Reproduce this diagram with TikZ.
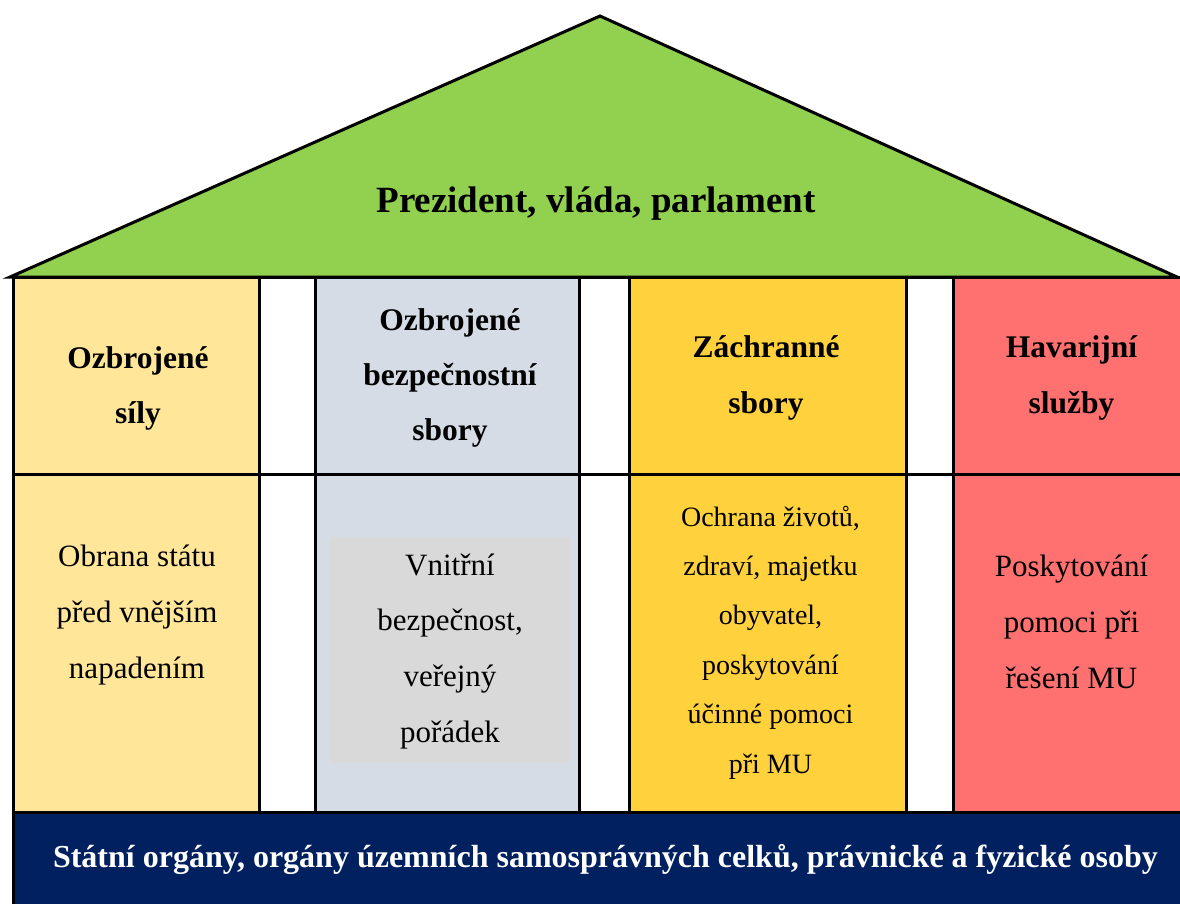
\documentclass[tikz,border=0pt]{standalone}
\usepackage{fontspec}
\setmainfont{Liberation Serif}
\definecolor{roofgreen}{HTML}{92D050}
\definecolor{colA}{HTML}{FFE699}
\definecolor{colB}{HTML}{D6DCE5}
\definecolor{colBin}{HTML}{D9D9D9}
\definecolor{colC}{HTML}{FFD13D}
\definecolor{colD}{HTML}{FF7171}
\definecolor{navy}{HTML}{002060}
\begin{document}
\begin{tikzpicture}[x=1pt,y=-1pt,
  pillar/.style={draw=black, line width=3pt},
  txt/.style={anchor=base, inner sep=0pt}]
\useasboundingbox (0,0) rectangle (1180,903);
\clip (0,0) rectangle (1180,903);
\fill[white] (0,0) rectangle (1180,903);
% columns
\draw[pillar, fill=colA] (13,277) rectangle (259,812);
\draw[pillar, fill=white] (259,277) rectangle (315,812);
\draw[pillar, fill=colB] (315,277) rectangle (579,812);
\draw[pillar, fill=white] (579,277) rectangle (629,812);
\draw[pillar, fill=colC] (629,277) rectangle (906,812);
\draw[pillar, fill=white] (906,277) rectangle (953,812);
\draw[pillar, fill=colD] (953,277) rectangle (1200,812);
\draw[pillar] (13,474) -- (1200,474);
\fill[colBin] (330,537) rectangle (569,763);
% base
\draw[pillar, fill=navy] (13,812) rectangle (1200,920);
% roof
\draw[pillar, fill=roofgreen, line join=miter] (10,277) -- (600,16) -- (1177,277) -- cycle;
% texts
\node[txt] (roof) at (596,212) {\parbox[t]{700pt}{\centering\bfseries\fontsize{37}{44}\selectfont Prezident, vláda, parlament}};
\node[txt] (h1) at (138,368) {\parbox[t]{240pt}{\centering\bfseries\fontsize{31.5}{55}\selectfont Ozbrojené\\síly}};
\node[txt] (h2) at (450,330) {\parbox[t]{260pt}{\centering\bfseries\fontsize{31.5}{55}\selectfont Ozbrojené\\bezpečnostní\\sbory}};
\node[txt] (h3) at (766,357) {\parbox[t]{270pt}{\centering\bfseries\fontsize{31.5}{56}\selectfont Záchranné\\sbory}};
\node[txt] (h4) at (1071.5,357) {\parbox[t]{230pt}{\centering\bfseries\fontsize{31.5}{56}\selectfont Havarijní\\služby}};
\node[txt] (b1) at (137,566) {\parbox[t]{240pt}{\centering\fontsize{31}{56}\selectfont Obrana státu\\před vnějším\\napadením}};
\node[txt] (b2) at (450,575) {\parbox[t]{240pt}{\centering\fontsize{31}{55.7}\selectfont Vnitřní\\bezpečnost,\\veřejný\\pořádek}};
\node[txt] (b3) at (770.5,526) {\parbox[t]{270pt}{\centering\fontsize{28}{49.4}\selectfont Ochrana životů,\\zdraví, majetku\\obyvatel,\\poskytování\\účinné pomoci\\při MU}};
\node[txt] (b4) at (1071.5,576) {\parbox[t]{230pt}{\centering\fontsize{31}{56}\selectfont Poskytování\\pomoci při\\řešení MU}};
\node[txt, text=white] (base) at (605.5,867) {\parbox[t]{1170pt}{\centering\bfseries\fontsize{32}{38}\selectfont Státní orgány, orgány územních samosprávných celků, právnické a fyzické osoby}};
\end{tikzpicture}
\end{document}
